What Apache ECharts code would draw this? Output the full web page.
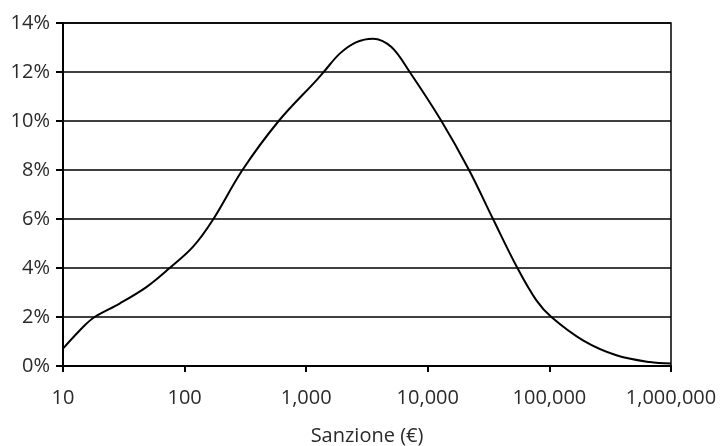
<!DOCTYPE html>
<html>
<head>
<meta charset="utf-8">
<script src="https://cdn.jsdelivr.net/npm/echarts@6/dist/echarts.min.js"></script>
<style>
html,body{margin:0;padding:0;background:#fff;}
#c{width:728px;height:446px;}
</style>
</head>
<body>
<div id="c"></div>
<script>
// Sanction amount (€), log scale
var sanzioni = [10, 15.1, 18.2, 29.2, 48.5, 75.4, 117, 171, 299, 594, 1213, 1393, 1887, 2590, 3541, 5020, 7100, 12940, 21830, 34380, 54560, 78200, 103800, 188800, 355600, 668000, 1000000];
// Share of cases (%)
var quote = [0.71, 1.66, 2.0, 2.55, 3.22, 4.0, 4.86, 5.97, 8.0, 10.0, 11.66, 12.0, 12.75, 13.22, 13.36, 13.02, 12.0, 10.0, 8.0, 6.0, 4.0, 2.68, 2.0, 1.05, 0.44, 0.16, 0.10];
var yTicks = [0, 2, 4, 6, 8, 10, 12, 14];
var xTicks = [10, 100, 1000, 10000, 100000, 1000000];
var xName = 'Sanzione (€)';

var data = sanzioni.map(function (v, i) { return [v, quote[i]]; });
var font = '"Open Sans", sans-serif';

var chart = echarts.init(document.getElementById('c'), null, {renderer: 'canvas'});
chart.setOption({
  animation: false,
  backgroundColor: '#ffffff',
  grid: {left: 63, right: 57, top: 23, bottom: 80, containLabel: false, outerBoundsMode: 'none',
         show: true, borderColor: '#000', borderWidth: 1.5, backgroundColor: 'transparent'},
  xAxis: {
    type: 'log', logBase: 10, min: xTicks[0], max: xTicks[xTicks.length - 1],
    name: xName, nameLocation: 'middle', nameGap: 60,
    nameTextStyle: {fontFamily: font, fontSize: 20, color: '#2a2a2a'},
    axisLine: {show: true, lineStyle: {color: '#000', width: 2}},
    axisTick: {show: true, length: 6, inside: false, lineStyle: {color: '#000', width: 2}},
    axisLabel: {
      margin: 22, fontFamily: font, fontSize: 20, color: '#2a2a2a',
      formatter: function (v) { return Math.round(v).toLocaleString('en-US'); }
    },
    splitLine: {show: false},
    minorTick: {show: false}
  },
  yAxis: {
    type: 'value', min: yTicks[0], max: yTicks[yTicks.length - 1], interval: 2,
    axisLine: {show: true, lineStyle: {color: '#000', width: 2}},
    axisTick: {show: true, length: 7, lineStyle: {color: '#000', width: 2}},
    axisLabel: {margin: 13, fontFamily: font, fontSize: 20, color: '#2a2a2a', formatter: '{value}%'},
    splitLine: {show: true, lineStyle: {color: '#000', width: 1.5}}
  },
  series: [{
    type: 'line', data: data, smooth: 0.35, symbol: 'none',
    lineStyle: {color: '#000', width: 2}
  }]
});
</script>
</body>
</html>
